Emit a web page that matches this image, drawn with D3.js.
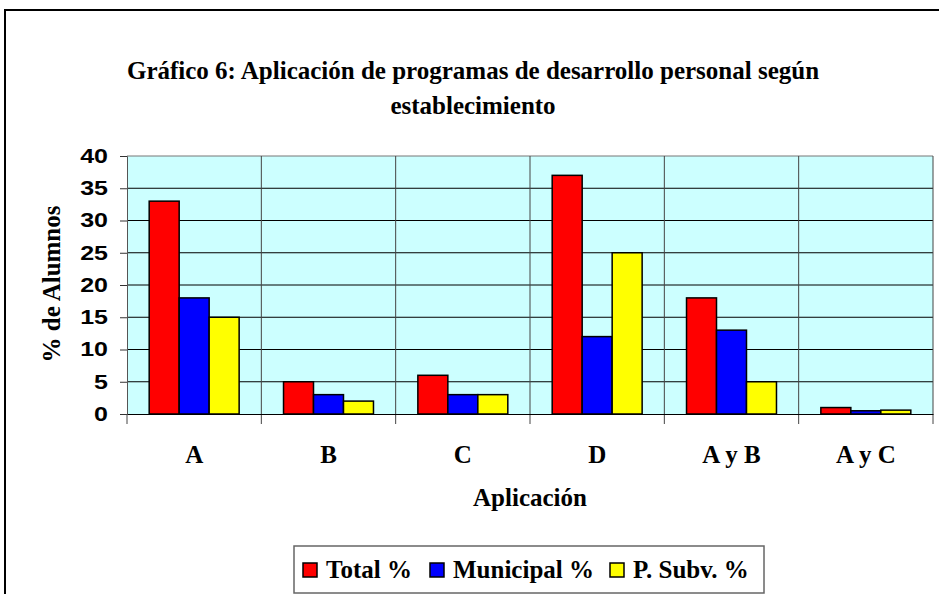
<!DOCTYPE html>
<html>
<head>
<meta charset="utf-8">
<script src="https://cdn.jsdelivr.net/npm/d3@7"></script>
<style>
  body { margin: 0; background: #fff; }
  svg { display: block; }
</style>
</head>
<body>
<script>
var categories = ["A", "B", "C", "D", "A y B", "A y C"];
var seriesNames = ["Total %", "Municipal %", "P. Subv. %"];
var total = [33, 5, 6, 37, 18, 1];
var municipal = [18, 3, 3, 12, 13, 0.5];
var subv = [15, 2, 3, 25, 5, 0.6];
var yTicks = [0, 5, 10, 15, 20, 25, 30, 35, 40];
var colors = ["#ff0000", "#0000ff", "#ffff00"];

var width = 939, height = 594;
var serif = "'Liberation Serif', 'Times New Roman', serif";
var sans = "'Liberation Sans', Arial, sans-serif";

var svg = d3.select("body").append("svg")
    .attr("width", width)
    .attr("height", height);

// outer frame (runs off the right and bottom edge)
svg.append("rect")
    .attr("x", 5).attr("y", 10)
    .attr("width", 1000).attr("height", 700)
    .attr("fill", "#fff")
    .attr("stroke", "#000")
    .attr("stroke-width", 2);

var x = d3.scaleBand().domain(categories).range([127, 933]);
var x1 = d3.scaleBand().domain(seriesNames).range([0, x.bandwidth()]).paddingOuter(0.74);
var y = d3.scaleLinear().domain([0, 40]).range([414, 156]);

// plot background
svg.append("rect")
    .attr("x", x.range()[0]).attr("y", y(40))
    .attr("width", x.range()[1] - x.range()[0])
    .attr("height", y(0) - y(40))
    .attr("fill", "#ccffff");

// horizontal gridlines
svg.append("g").selectAll("line")
    .data(yTicks.slice(1))
    .enter().append("line")
    .attr("x1", x.range()[0]).attr("x2", x.range()[1])
    .attr("y1", function(d) { return y(d); })
    .attr("y2", function(d) { return y(d); })
    .attr("stroke", function(d) { return d === 40 ? "#777" : "#000"; })
    .attr("stroke-width", 1);

// vertical category separators
svg.append("g").selectAll("line")
    .data(categories.slice(1).concat(["end"]))
    .enter().append("line")
    .attr("x1", function(d, i) { return x.range()[0] + (i + 1) * x.step(); })
    .attr("x2", function(d, i) { return x.range()[0] + (i + 1) * x.step(); })
    .attr("y1", y(40)).attr("y2", y(0) + 10)
    .attr("stroke", "#444")
    .attr("stroke-width", 1);

// bars
var rows = categories.map(function(c, i) {
  return {cat: c, vals: [total[i], municipal[i], subv[i]]};
});
var groups = svg.append("g").selectAll("g")
    .data(rows)
    .enter().append("g")
    .attr("transform", function(d) { return "translate(" + x(d.cat) + ",0)"; });
groups.selectAll("rect")
    .data(function(d) { return d.vals.map(function(v, j) { return {s: seriesNames[j], v: v, j: j}; }); })
    .enter().append("rect")
    .attr("x", function(d) { return x1(d.s); })
    .attr("width", x1.bandwidth())
    .attr("y", function(d) { return y(d.v); })
    .attr("height", function(d) { return y(0) - y(d.v); })
    .attr("fill", function(d) { return colors[d.j]; })
    .attr("stroke", "#000")
    .attr("stroke-width", 1.5);

// y axis
var yAxis = svg.append("g")
    .attr("transform", "translate(" + x.range()[0] + ",0)")
    .call(d3.axisLeft(y).tickValues(yTicks).tickSize(7).tickPadding(12));
yAxis.select(".domain").attr("stroke", "#555").attr("stroke-width", 1);
yAxis.selectAll(".tick line").attr("stroke", "#333");
yAxis.selectAll("text")
    .attr("x", -19 / 1.25)
    .attr("transform", "scale(1.25,1)")
    .attr("font-family", sans)
    .attr("font-weight", "bold")
    .attr("font-size", 20)
    .attr("fill", "#000");

// x axis
var xAxis = svg.append("g")
    .attr("transform", "translate(0," + y(0) + ")")
    .call(d3.axisBottom(x).tickSize(0).tickPadding(31));
xAxis.select(".domain").attr("stroke", "#000").attr("stroke-width", 1);
xAxis.selectAll("text")
    .attr("font-family", serif)
    .attr("font-weight", "bold")
    .attr("font-size", 25)
    .attr("fill", "#000");
svg.append("line")
    .attr("x1", x.range()[0]).attr("x2", x.range()[0])
    .attr("y1", y(0)).attr("y2", y(0) + 10)
    .attr("stroke", "#444");

// titles
svg.append("text")
    .attr("x", 473).attr("y", 79)
    .attr("text-anchor", "middle")
    .attr("font-family", serif).attr("font-weight", "bold").attr("font-size", 25)
    .text("Gráfico 6: Aplicación de programas de desarrollo personal según");
svg.append("text")
    .attr("x", 473).attr("y", 114)
    .attr("text-anchor", "middle")
    .attr("font-family", serif).attr("font-weight", "bold").attr("font-size", 25)
    .text("establecimiento");

svg.append("text")
    .attr("x", 530).attr("y", 506)
    .attr("text-anchor", "middle")
    .attr("font-family", serif).attr("font-weight", "bold").attr("font-size", 25)
    .text("Aplicación");

svg.append("text")
    .attr("transform", "translate(60,284)rotate(-90)")
    .attr("text-anchor", "middle")
    .attr("font-family", serif).attr("font-weight", "bold").attr("font-size", 25)
    .text("% de Alumnos");

// legend
var legend = svg.append("g");
legend.append("rect")
    .attr("x", 294).attr("y", 546)
    .attr("width", 470).attr("height", 47)
    .attr("fill", "#fff")
    .attr("stroke", "#666")
    .attr("stroke-width", 1.5);
var legX = [303, 430, 610];
var item = legend.selectAll("g.item")
    .data(seriesNames)
    .enter().append("g")
    .attr("class", "item")
    .attr("transform", function(d, i) { return "translate(" + legX[i] + ",563)"; });
item.append("rect")
    .attr("width", 14).attr("height", 14)
    .attr("fill", function(d, i) { return colors[i]; })
    .attr("stroke", "#000")
    .attr("stroke-width", 1.5);
item.append("text")
    .attr("x", 23).attr("y", 15)
    .attr("font-family", serif).attr("font-weight", "bold").attr("font-size", 25)
    .text(function(d) { return d; });
</script>
</body>
</html>
